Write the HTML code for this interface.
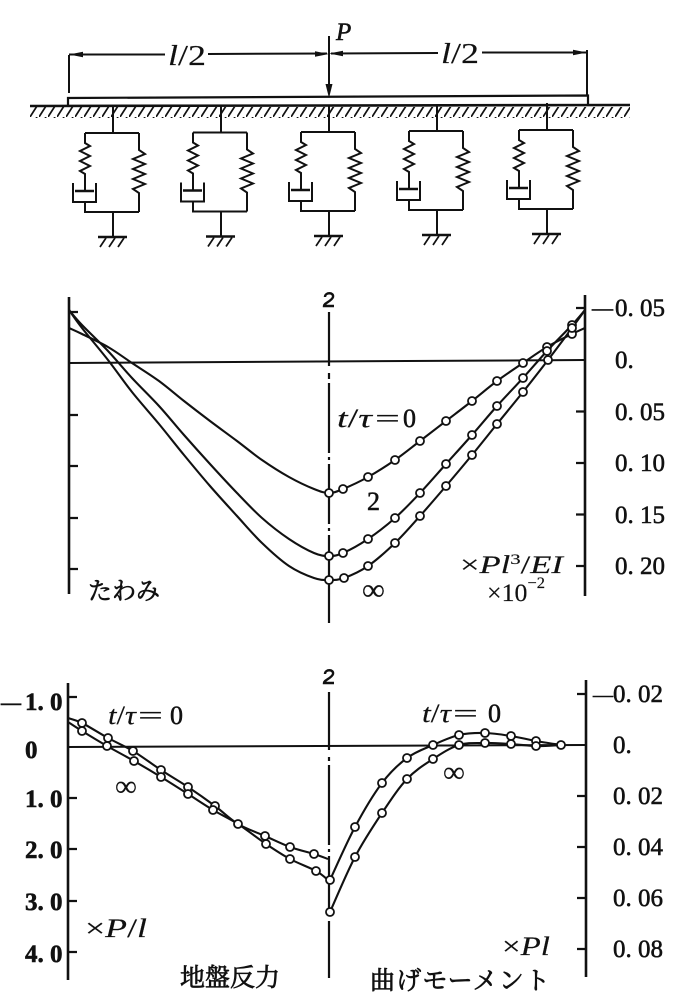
<!DOCTYPE html>
<html>
<head>
<meta charset="utf-8">
<style>
html,body{margin:0;padding:0;background:#fff;}
svg{display:block;}
text{font-family:"Liberation Serif","Noto Serif CJK SC",serif;fill:#111;stroke:#111;stroke-width:0.55;}
.jp{font-family:"Liberation Serif","Noto Serif CJK SC","Noto Sans CJK JP",serif;stroke-width:0.7;}
.it{font-style:italic;}
.th{stroke-width:0.15;}
</style>
</head>
<body>
<svg width="683" height="997" viewBox="0 0 683 997" xmlns="http://www.w3.org/2000/svg">
<defs>
  <pattern id="hat" width="9" height="11" patternUnits="userSpaceOnUse" x="30" y="106">
    <path d="M0,11 L7,0" stroke="#111" stroke-width="1.7"/>
  </pattern>
  <g id="unit" fill="none" stroke="#111" stroke-width="2">
    <path d="M0,106 V133"/>
    <path d="M-28,133 H26"/>
    <path d="M-28,133 V143 L-23,146 L-33,151 L-23,156 L-33,161 L-23,166 L-33,171 L-28,174 V191"/>
    <path d="M-38,191 H-19" stroke-width="2.4"/>
    <path d="M-40,183 V202 H-17 V183"/>
    <path d="M-28,202 V212 H26"/>
    <path d="M26,133 V150 L32,154 L20,159 L32,164 L20,169 L32,174 L20,179 L32,184 L20,189 L26,193 V212"/>
    <path d="M0,212 V237"/>
    <path d="M-15,237 H14" stroke-width="2.4"/>
    <path d="M-13,247 L-7,238 M-4,247 L2,238 M5,247 L11,238" stroke-width="1.7"/>
  </g>
</defs>

<!-- ================= TOP DIAGRAM ================= -->
<g fill="none" stroke="#111" stroke-width="2">
  <line x1="69" y1="55" x2="69" y2="93"/>
  <line x1="587" y1="50" x2="587" y2="96"/>
  <line x1="69" y1="54.5" x2="165" y2="54.5"/>
  <line x1="208" y1="54" x2="327" y2="53.5"/>
  <line x1="331" y1="53.5" x2="438" y2="53"/>
  <line x1="482" y1="52.5" x2="587" y2="52.5"/>
  <line x1="329" y1="36" x2="329" y2="88"/>
  <path d="M68,106 V98 L588,95.5 V105" stroke-width="2.2"/>
  <line x1="30" y1="106" x2="630" y2="105" stroke-width="2.6"/>
</g>
<g fill="#111">
  <path d="M69,54.5 L83,51.8 L83,57.2 Z"/>
  <path d="M329,54 L315,51.3 L315,56.7 Z"/>
  <path d="M329,53.5 L343,50.8 L343,56.2 Z"/>
  <path d="M587,52.5 L573,49.8 L573,55.2 Z"/>
  <path d="M329,98 L325.5,84 L332.5,84 Z"/>
</g>
<rect x="30" y="107" width="600" height="11" fill="url(#hat)"/>
<use href="#unit" transform="translate(113,0)"/>
<use href="#unit" transform="translate(221,-0.5)"/>
<use href="#unit" transform="translate(329,-1)"/>
<use href="#unit" transform="translate(437,-2)"/>
<use href="#unit" transform="translate(547,-3)"/>
<text x="336" y="40" font-size="25" class="it">P</text>
<text x="168" y="65" font-size="29" class="th" textLength="38" lengthAdjust="spacingAndGlyphs"><tspan class="it">l</tspan>/2</text>
<text x="441" y="63" font-size="29" class="th" textLength="38" lengthAdjust="spacingAndGlyphs"><tspan class="it">l</tspan>/2</text>

<!-- ================= MIDDLE CHART ================= -->
<g fill="none" stroke="#111">
  <line x1="69" y1="297" x2="69" y2="594" stroke-width="2.6"/>
  <line x1="585" y1="295" x2="585" y2="596" stroke-width="2.6"/>
  <line x1="69" y1="363" x2="585" y2="360" stroke-width="2"/>
  <g stroke-width="2.2">
    <path d="M69,312 H78 M69,415 H78 M69,466 H78 M69,518 H78 M69,569 H78"/>
    <path d="M576,308 H585 M576,411.5 H585 M576,463 H585 M576,514.5 H585 M576,566 H585"/>
  </g>
  <line x1="329" y1="312" x2="329" y2="366" stroke-width="2.2"/>
  <line x1="329" y1="373" x2="329" y2="623" stroke-width="2.2" stroke-dasharray="6 4 70 4 3 4 60 4 3 4 200"/>
  <path d="M325,297 C325,292 334,292 333,297 C332,301 324,303 324,306 L334,306" stroke-width="2.4"/>
</g>
<g fill="none" stroke="#111" stroke-width="2.1" stroke-linejoin="round">
  <polyline class="s" points="69,328 82,334 108,347 132,363 159,381 184,401 210,421 237,441 262,460 289,477 314,489 329,493 343,489 368,477 395,460 420,441 446,421 472,401 497,381 523,363 547,347 572,334 585,328"/>
  <polyline class="s" points="69,310 82,325 108,351 132,378 159,406 184,435 210,464 237,493 262,518 289,539 314,553 329,556 343,553 368,539 395,518 420,493 446,464 472,435 497,406 523,378 547,351 572,325 585,310"/>
  <polyline class="s" points="69,310 82,328 108,360 132,392 159,424 184,455 210,486 237,516 262,543 289,566 314,578 329,580 344,578 368,566 395,543 420,516 446,486 472,455 497,424 523,392 548,360 572,328 585,310"/>
</g>
<g fill="#fff" stroke="#111" stroke-width="1.8">
  <circle cx="329" cy="493" r="4"/><circle cx="343" cy="489" r="4"/><circle cx="368" cy="477" r="4"/><circle cx="395" cy="460" r="4"/><circle cx="420" cy="441" r="4"/><circle cx="446" cy="421" r="4"/><circle cx="472" cy="401" r="4"/><circle cx="497" cy="381" r="4"/><circle cx="523" cy="363" r="4"/><circle cx="547" cy="347" r="4"/><circle cx="572" cy="334" r="4"/>
  <circle cx="329" cy="556" r="4"/><circle cx="343" cy="553" r="4"/><circle cx="368" cy="539" r="4"/><circle cx="395" cy="518" r="4"/><circle cx="420" cy="493" r="4"/><circle cx="446" cy="464" r="4"/><circle cx="472" cy="435" r="4"/><circle cx="497" cy="406" r="4"/><circle cx="523" cy="378" r="4"/><circle cx="547" cy="351" r="4"/><circle cx="572" cy="325" r="4"/>
  <circle cx="329" cy="580" r="4"/><circle cx="344" cy="578" r="4"/><circle cx="368" cy="566" r="4"/><circle cx="395" cy="543" r="4"/><circle cx="420" cy="516" r="4"/><circle cx="446" cy="486" r="4"/><circle cx="472" cy="455" r="4"/><circle cx="497" cy="424" r="4"/><circle cx="523" cy="392" r="4"/><circle cx="548" cy="360" r="4"/><circle cx="572" cy="328" r="4"/>
</g>
<!-- right labels -->
<text x="592" y="315" font-size="21">—</text>
<text x="615" y="316" font-size="25">0. 05</text>
<text x="615" y="368" font-size="25">0.</text>
<text x="615" y="420" font-size="25">0. 05</text>
<text x="615" y="471" font-size="25">0. 10</text>
<text x="615" y="523" font-size="25">0. 15</text>
<text x="615" y="574" font-size="25">0. 20</text>
<!-- series labels -->
<text x="337" y="427" font-size="26" class="th" textLength="35" lengthAdjust="spacingAndGlyphs"><tspan class="it">t</tspan>/<tspan class="it">τ</tspan></text>
<text x="375" y="427" font-size="26" class="th" textLength="25" lengthAdjust="spacingAndGlyphs">=</text>
<text x="403" y="427" font-size="26">0</text>
<text x="367" y="510" font-size="26">2</text>
<text x="362" y="600" font-size="31" class="th" textLength="23" lengthAdjust="spacingAndGlyphs">∞</text>
<text x="88" y="599" font-size="24" class="jp" textLength="72">たわみ</text>
<text x="460" y="573" font-size="25" class="th" textLength="103" lengthAdjust="spacingAndGlyphs">×<tspan class="it">Pl</tspan><tspan font-size="15" dy="-9">3</tspan><tspan dy="9">/</tspan><tspan class="it">EI</tspan></text>
<text x="487" y="601" font-size="25" class="th" textLength="58" lengthAdjust="spacingAndGlyphs">×10<tspan font-size="16" dy="-13">−2</tspan></text>

<!-- ================= BOTTOM CHART ================= -->
<g fill="none" stroke="#111">
  <line x1="68" y1="683" x2="68" y2="980" stroke-width="2.6"/>
  <line x1="586" y1="680" x2="586" y2="977" stroke-width="2.6"/>
  <line x1="68" y1="747" x2="586" y2="745" stroke-width="2"/>
  <g stroke-width="2.2">
    <path d="M68,697 H77 M68,798 H77 M68,849 H77 M68,901 H77 M68,952 H77"/>
    <path d="M577,694 H586 M577,796 H586 M577,847 H586 M577,898 H586 M577,949 H586"/>
  </g>
  <line x1="329" y1="692" x2="329" y2="750" stroke-width="2.2"/>
  <line x1="329" y1="757" x2="329" y2="978" stroke-width="2.2" stroke-dasharray="4 4 80 4 3 4 60 5 200"/>
  <path d="M325,674 C325,669 334,669 333,674 C332,678 324,680 324,683 L334,683" stroke-width="2.4"/>
</g>
<g fill="none" stroke="#111" stroke-width="2.1" stroke-linejoin="round">
  <polyline class="s" points="68,718 82,723 108,738 133,751 161,770 188,787 215,806 238,824 265,836 290,847 314,854 328,859"/>
  <polyline class="s" points="68,722 82,731 107,746 134,761 161,777 188,794 213,810 238,824 266,844 290,859 316,871 328,880"/>
  <polyline class="s" points="330,880 355,827 382,783 407,758 433,745 459,735 485,733 511,736 536,741 561,745"/>
  <polyline class="s" points="330,912 355,857 382,813 407,779 433,759 459,745 485,743 511,744 536,746 561,745"/>
</g>
<g fill="#fff" stroke="#111" stroke-width="1.8">
  <circle cx="82" cy="723" r="4"/><circle cx="108" cy="738" r="4"/><circle cx="133" cy="751" r="4"/><circle cx="161" cy="770" r="4"/><circle cx="188" cy="787" r="4"/><circle cx="215" cy="806" r="4"/><circle cx="238" cy="824" r="4"/><circle cx="265" cy="836" r="4"/><circle cx="290" cy="847" r="4"/><circle cx="314" cy="854" r="4"/>
  <circle cx="82" cy="731" r="4"/><circle cx="107" cy="746" r="4"/><circle cx="134" cy="761" r="4"/><circle cx="161" cy="777" r="4"/><circle cx="188" cy="794" r="4"/><circle cx="213" cy="810" r="4"/><circle cx="266" cy="844" r="4"/><circle cx="290" cy="859" r="4"/><circle cx="316" cy="871" r="4"/>
  <circle cx="330" cy="880" r="4"/><circle cx="355" cy="827" r="4"/><circle cx="382" cy="783" r="4"/><circle cx="407" cy="758" r="4"/><circle cx="433" cy="745" r="4"/><circle cx="459" cy="735" r="4"/><circle cx="485" cy="733" r="4"/><circle cx="511" cy="736" r="4"/><circle cx="536" cy="741" r="4"/><circle cx="561" cy="745" r="4"/>
  <circle cx="330" cy="912" r="4"/><circle cx="355" cy="857" r="4"/><circle cx="382" cy="813" r="4"/><circle cx="407" cy="779" r="4"/><circle cx="433" cy="759" r="4"/><circle cx="459" cy="745" r="4"/><circle cx="485" cy="743" r="4"/><circle cx="511" cy="744" r="4"/><circle cx="536" cy="746" r="4"/>
</g>
<!-- left labels -->
<text x="1" y="709" font-size="20" font-weight="bold">—</text>
<text x="25" y="710" font-size="25" font-weight="bold">1. 0</text>
<text x="25" y="758" font-size="25" font-weight="bold">0</text>
<text x="25" y="807" font-size="25" font-weight="bold">1. 0</text>
<text x="25" y="858" font-size="25" font-weight="bold">2. 0</text>
<text x="25" y="910" font-size="25" font-weight="bold">3. 0</text>
<text x="25" y="962" font-size="25" font-weight="bold">4. 0</text>
<!-- right labels -->
<text x="593" y="701" font-size="20">—</text>
<text x="613" y="702" font-size="25">0. 02</text>
<text x="613" y="753" font-size="25">0.</text>
<text x="613" y="804" font-size="25">0. 02</text>
<text x="613" y="855" font-size="25">0. 04</text>
<text x="613" y="906" font-size="25">0. 06</text>
<text x="613" y="957" font-size="25">0. 08</text>
<!-- series labels -->
<text x="108" y="724" font-size="26" class="th" textLength="28" lengthAdjust="spacingAndGlyphs"><tspan class="it">t</tspan>/<tspan class="it">τ</tspan></text>
<text x="138" y="724" font-size="26" class="th" textLength="25" lengthAdjust="spacingAndGlyphs">=</text>
<text x="170" y="724" font-size="26">0</text>
<text x="115" y="796" font-size="30" class="th" textLength="22" lengthAdjust="spacingAndGlyphs">∞</text>
<text x="85" y="937" font-size="26" class="th" textLength="62" lengthAdjust="spacingAndGlyphs">×<tspan class="it">P</tspan>/<tspan class="it">l</tspan></text>
<text x="180" y="986" font-size="25" class="jp" textLength="100">地盤反力</text>
<text x="422" y="722" font-size="26" class="th" textLength="29" lengthAdjust="spacingAndGlyphs"><tspan class="it">t</tspan>/<tspan class="it">τ</tspan></text>
<text x="453" y="722" font-size="26" class="th" textLength="25" lengthAdjust="spacingAndGlyphs">=</text>
<text x="488" y="722" font-size="26">0</text>
<text x="443" y="782" font-size="30" class="th" textLength="22" lengthAdjust="spacingAndGlyphs">∞</text>
<text x="502" y="955" font-size="26" class="th" textLength="48" lengthAdjust="spacingAndGlyphs">×<tspan class="it">Pl</tspan></text>
<text x="370" y="989" font-size="25" class="jp" textLength="180">曲げモーメント</text>
</svg>
<script>
(function(){
  var NS='http://www.w3.org/2000/svg';
  var pls=document.querySelectorAll('polyline.s');
  for(var k=0;k<pls.length;k++){
    var pl=pls[k];
    var raw=pl.getAttribute('points').trim().split(/\s+/);
    var pts=raw.map(function(p){return p.split(',').map(Number);});
    var d='M'+pts[0][0]+','+pts[0][1];
    for(var i=0;i<pts.length-1;i++){
      var p0=pts[i-1]||pts[i],p1=pts[i],p2=pts[i+1],p3=pts[i+2]||pts[i+1];
      var c1x=p1[0]+(p2[0]-p0[0])/6,c1y=p1[1]+(p2[1]-p0[1])/6;
      var c2x=p2[0]-(p3[0]-p1[0])/6,c2y=p2[1]-(p3[1]-p1[1])/6;
      d+=' C'+c1x.toFixed(2)+','+c1y.toFixed(2)+' '+c2x.toFixed(2)+','+c2y.toFixed(2)+' '+p2[0]+','+p2[1];
    }
    var path=document.createElementNS(NS,'path');
    path.setAttribute('d',d);
    pl.parentNode.replaceChild(path,pl);
  }
})();
</script>
</body>
</html>
